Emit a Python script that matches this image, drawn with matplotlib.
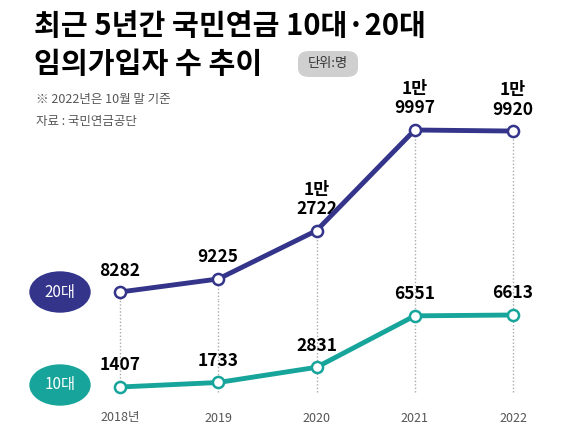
import matplotlib
matplotlib.use("Agg")
import matplotlib.pyplot as plt
from matplotlib.patches import Ellipse, FancyBboxPatch

plt.rcParams['font.family'] = ['Noto Sans CJK KR', 'DejaVu Sans']

years = ["2018년", "2019", "2020", "2021", "2022"]
v20 = [8282, 9225, 12722, 19997, 19920]
v10 = [1407, 1733, 2831, 6551, 6613]
navy = "#33348a"
teal = "#17a59b"

W, H = 570, 433
fig = plt.figure(figsize=(W/100, H/100), dpi=100)

def fr(x0, y0, x1, y1):
    return [x0/W, 1-y1/H, (x1-x0)/W, (y1-y0)/H]

x = list(range(5))
xl = (-25/98.25, 4+27/98.25)
ax1 = fig.add_axes(fr(95, 100, 540, 300))
ax2 = fig.add_axes(fr(95, 300, 540, 400))
ax1.set_ylim(7704, 22166)
ax2.set_ylim(467, 467 + 100*72.3)
for ax in (ax1, ax2):
    ax.set_xlim(*xl)
    ax.axis('off')

def lab(v):
    return f"1만\n{v-10000}" if v >= 10000 else str(v)

for xi, v in zip(x, v20):
    ax1.vlines(xi, ax1.get_ylim()[0], v, colors="#aaaaaa", linestyles=(0, (1, 1.5)), lw=1, zorder=1)
    ax2.vlines(xi, ax2.get_ylim()[0] + 8*72.3, ax2.get_ylim()[1], colors="#aaaaaa", linestyles=(0, (1, 1.5)), lw=1, zorder=1)
    ax1.annotate(lab(v), (xi, v), xytext=(0, 9), textcoords="offset points", ha="center", va="bottom",
                 fontsize=12.5, fontweight="bold", linespacing=1.1)
ax1.plot(x, v20, color=navy, lw=3.5, marker="o", ms=8, mfc="white", mec=navy, mew=1.8, zorder=3, clip_on=False)
for xi, v in zip(x, v10):
    ax2.annotate(lab(v), (xi, v), xytext=(0, 9), textcoords="offset points", ha="center", va="bottom",
                 fontsize=12.5, fontweight="bold")
ax2.plot(x, v10, color=teal, lw=3.5, marker="o", ms=8, mfc="white", mec=teal, mew=1.8, zorder=3, clip_on=False)

for xi, t in zip(x, years):
    px = 120 + 98.25*xi
    fig.text(px/W, 1-418/H, t, ha="center", va="center", fontsize=9, color="#555555")

for py, txt, c in [(292, "20대", navy), (385, "10대", teal)]:
    e = Ellipse((60/W, 1-py/H), 60/W, 40/H, transform=fig.transFigure, color=c)
    fig.add_artist(e)
    fig.text(60/W, 1-py/H, txt, ha="center", va="center", color="white", fontsize=11)

fig.text(34/W, 1-26/H, "최근 5년간 국민연금 10대·20대", fontsize=21, fontweight="bold", va="center")
fig.text(34/W, 1-64/H, "임의가입자 수 추이", fontsize=21, fontweight="bold", va="center")
box = FancyBboxPatch((298/W, 1-77/H), 60/W, 26/H, boxstyle="round,pad=0,rounding_size=0.02",
                     transform=fig.transFigure, fc="#cfcfcf", ec="none")
fig.add_artist(box)
fig.text(328/W, 1-64/H, "단위:명", ha="center", va="center", fontsize=9.5, color="#333333")
fig.text(36/W, 1-100/H, "※ 2022년은 10월 말 기준", fontsize=9, color="#555555", va="center")
fig.text(36/W, 1-122/H, "자료 : 국민연금공단", fontsize=9, color="#555555", va="center")

fig.savefig("out.png", dpi=100)
